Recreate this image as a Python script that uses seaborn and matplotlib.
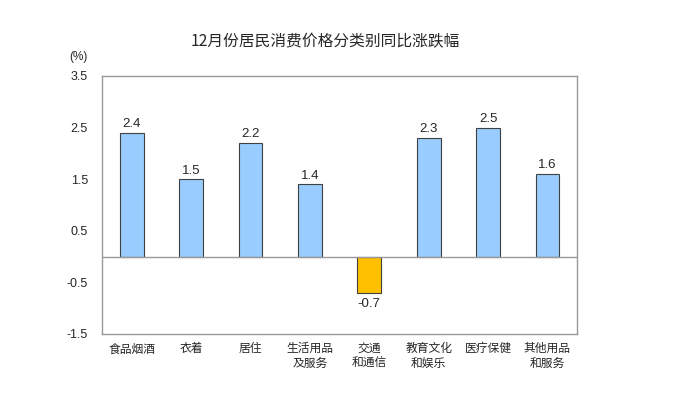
import matplotlib
matplotlib.use("Agg")
import matplotlib.pyplot as plt
import seaborn as sns
import pandas as pd

categories = ["食品烟酒", "衣着", "居住", "生活用品\n及服务", "交通\n和通信", "教育文化\n和娱乐", "医疗保健", "其他用品\n和服务"]
values = [2.4, 1.5, 2.2, 1.4, -0.7, 2.3, 2.5, 1.6]
yticks = [-1.5, -0.5, 0.5, 1.5, 2.5, 3.5]
title = "12月份居民消费价格分类别同比涨跌幅"

sns.set_theme(style="white")
plt.rcParams['font.family'] = ['Noto Sans CJK SC', 'DejaVu Sans']

df = pd.DataFrame({"cat": categories, "val": values,
                   "sign": ["neg" if v < 0 else "pos" for v in values]})

fig = plt.figure(figsize=(6.75, 3.99), dpi=100)
ax = fig.add_axes([0.151, 0.163, 0.704, 0.6466])
sns.barplot(data=df, x="cat", y="val", hue="sign",
            palette={"pos": "#99CCFF", "neg": "#FFC000"}, saturation=1,
            width=0.4, dodge=False, edgecolor="#404040", linewidth=0.8,
            legend=False, ax=ax)

ax.set_xlim(-0.5, len(categories) - 0.5)
ax.set_ylim(-1.5, 3.5)
ax.set_yticks(yticks)
ax.set_yticklabels([f"{t:.1f}" for t in yticks], fontsize=9, family=['Liberation Sans', 'DejaVu Sans'])
ax.axhline(0, color="#999999", linewidth=1.0)
ax.set_xlabel("")
ax.set_ylabel("")
ax.tick_params(axis='x', length=0, pad=6, labelsize=8.5)
ax.tick_params(axis='y', length=3, color="#bbbbbb", pad=10, direction='in')
for lbl in ax.get_xticklabels():
    lbl.set_multialignment('center')
    lbl.set_verticalalignment('top')
for s in ax.spines.values():
    s.set_color("#999999")
    s.set_linewidth(1.0)

for i, v in enumerate(values):
    if v >= 0:
        ax.text(i, v + 0.05, f"{v:.1f}", ha="center", va="bottom", fontsize=9.5,
                family=['Liberation Sans', 'DejaVu Sans'])
    else:
        ax.text(i, v - 0.1, f"{v:.1f}", ha="center", va="top", fontsize=9.5,
                family=['Liberation Sans', 'DejaVu Sans'])

fig.text(325 / 675, 1 - 42 / 399, title, ha="center", va="center", fontsize=11.3)
fig.text(78 / 675, 1 - 57 / 399, "(%)", ha="center", va="center", fontsize=8.5,
         family=['Liberation Sans', 'DejaVu Sans'])

fig.savefig("out.png", dpi=100)
